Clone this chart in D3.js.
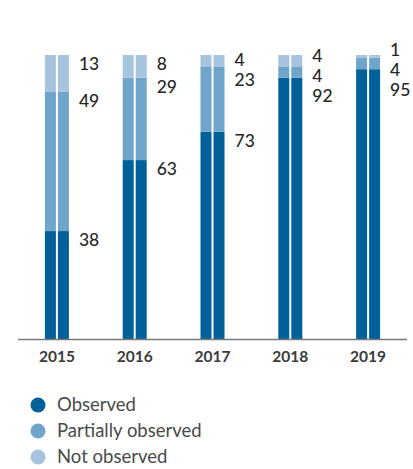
<!DOCTYPE html>
<html>
<head>
<meta charset="utf-8">
<script src="https://cdn.jsdelivr.net/npm/d3@7"></script>
<style>
  html, body { margin: 0; padding: 0; background: #fff; }
  svg { display: block; font-family: Lato, "Open Sans", sans-serif; }
</style>
</head>
<body>
<svg id="chart" width="413" height="469"></svg>
<script>
// Share of recommendations by status, per year (percent)
const years = ["2015", "2016", "2017", "2018", "2019"];
const observed = [38, 63, 73, 92, 95];
const partiallyObserved = [49, 29, 23, 4, 4];
const notObserved = [13, 8, 4, 4, 1];

const seriesNames = ["Observed", "Partially observed", "Not observed"];
const seriesColors = ["#00619a", "#6ea5c9", "#a7c4df"];

const svg = d3.select("#chart");

const x = d3.scaleBand().domain(years).range([18, 407]);
const y = d3.scaleLinear().domain([0, 100]).range([339, 55]);
const barWidth = 24;
const splitGap = 2;

const rows = years.map((yr, i) => ({
  year: yr,
  Observed: observed[i],
  "Partially observed": partiallyObserved[i],
  "Not observed": notObserved[i]
}));

const stacked = d3.stack().keys(seriesNames)(rows);

// bars: each stack segment drawn as two halves with a thin white split
const halves = [0, 1];
stacked.forEach((layer, li) => {
  const g = svg.append("g").attr("fill", seriesColors[li]);
  layer.forEach((d, i) => {
    const cx = x(years[i]) + x.bandwidth() / 2;
    halves.forEach(h => {
      const w = (barWidth - splitGap) / 2;
      g.append("rect")
        .attr("x", cx - barWidth / 2 + h * (w + splitGap))
        .attr("y", y(d[1]))
        .attr("width", w)
        .attr("height", y(d[0]) - y(d[1]));
    });
  });
});

// baseline
svg.append("line")
  .attr("x1", x.range()[0]).attr("x2", x.range()[1])
  .attr("y1", y(0) + 0.5).attr("y2", y(0) + 0.5)
  .attr("stroke", "#7a7a7a").attr("stroke-width", 1.5);

// year labels via a bottom axis without domain or ticks
const xAxis = svg.append("g")
  .attr("transform", `translate(0,${y(0)})`)
  .call(d3.axisBottom(x).tickSize(0).tickPadding(12));
xAxis.select(".domain").remove();
xAxis.selectAll("text")
  .attr("font-family", "Lato, sans-serif")
  .attr("font-size", 15.5)
  .attr("font-weight", 700)
  .attr("fill", "#3a3a3a");

// value labels to the right of each bar, spread apart when crowded
const minGap = 20;
years.forEach((yr, i) => {
  const cx = x(yr) + x.bandwidth() / 2;
  // top-down order: Not observed, Partially observed, Observed
  let labels = stacked.slice().reverse().map(layer => ({
    value: layer[i].data[layer.key],
    pos: y(layer[i][1]) + 9
  }));
  // cluster-based overlap removal (keeps each cluster centred on its natural positions)
  let clusters = labels.map(l => ({ items: [l] }));
  const place = c => {
    const n = c.items.length;
    const avg = d3.mean(c.items, l => l.pos);
    c.start = avg - (n - 1) * minGap / 2;
  };
  clusters.forEach(place);
  let merged = true;
  while (merged) {
    merged = false;
    for (let k = 0; k < clusters.length - 1; k++) {
      const a = clusters[k], b = clusters[k + 1];
      const aEnd = a.start + (a.items.length - 1) * minGap;
      if (b.start - aEnd < minGap) {
        const c = { items: a.items.concat(b.items) };
        place(c);
        clusters.splice(k, 2, c);
        merged = true;
        break;
      }
    }
  }
  clusters.forEach(c => c.items.forEach((l, j) => { l.y = c.start + j * minGap; }));

  svg.append("g").selectAll("text").data(labels).join("text")
    .attr("x", cx + barWidth / 2 + 10)
    .attr("y", d => d.y)
    .attr("dy", "0.36em")
    .attr("font-size", 17.5)
    .attr("font-weight", 500)
    .attr("fill", "#262626")
    .text(d => d.value);
});

// legend
const legend = svg.append("g").attr("transform", "translate(38,405)");
seriesNames.forEach((name, i) => {
  const row = legend.append("g").attr("transform", `translate(0,${i * 26})`);
  row.append("circle").attr("r", 7.5).attr("fill", seriesColors[i]);
  row.append("text")
    .attr("x", 19).attr("dy", "0.35em")
    .attr("font-size", 18.5)
    .attr("fill", "#4a4a4a")
    .text(name);
});
</script>
</body>
</html>
